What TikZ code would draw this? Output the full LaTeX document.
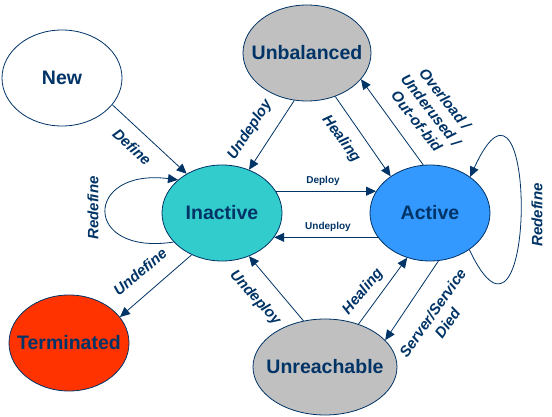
\documentclass[tikz,border=0pt]{standalone}
\usepackage{fontspec}
\setmainfont{Liberation Sans}
\usetikzlibrary{shapes.geometric,arrows.meta}
\definecolor{navy}{RGB}{0,51,102}
\definecolor{grayst}{RGB}{192,192,192}
\definecolor{turq}{RGB}{51,204,204}
\definecolor{bluest}{RGB}{51,153,255}
\definecolor{redst}{RGB}{255,51,0}
\begin{document}
\begin{tikzpicture}[x=1pt,y=1pt,line width=.8pt,
	state/.style={ellipse,draw=navy,text=navy,inner xsep=-12pt,inner ysep=0pt,minimum width=120pt,minimum height=96pt,font=\fontsize{19.5}{22}\selectfont\bfseries},
	tr/.style={draw=navy,-{Triangle[length=10pt,width=9pt]}},
	lbl/.style={text=navy,font=\fontsize{15}{18}\selectfont\bfseries\itshape,align=center,inner sep=0pt},
	small/.style={text=navy,font=\fontsize{10}{12}\selectfont\bfseries,inner sep=0pt}]
	\useasboundingbox (0,0) rectangle (552,416);
	% trang thai
	\node[state,fill=white] (New) at (62,338) {New};
	\node[state,fill=grayst,minimum width=128pt] (Unbalanced) at (307,363) {Unbalanced};
	\node[state,fill=turq] (Inactive) at (222,203) {Inactive};
	\node[state,fill=bluest] (Active) at (430,203) {Active};
	\node[state,fill=redst] (Terminated) at (69,73) {Terminated};
	\node[state,fill=grayst,minimum width=144pt] (Unreachable) at (325,49) {Unreachable};
	% chuyen trang thai
	\draw[tr] (New.-28) -- (Inactive.132);
	\draw[tr] (Unbalanced.255) -- (Inactive.58);
	\draw[tr] (Unbalanced.-57) -- (Active.137);
	\draw[tr] (Active.98) -- (Unbalanced.-26);
	\draw[tr] (Inactive.22) -- (Active.158);
	\draw[tr] (Active.205) -- (Inactive.-25);
	\draw[tr] (Inactive.234) -- (Terminated.27);
	\draw[tr] (Unreachable.115) -- (Inactive.-58);
	\draw[tr] (Unreachable.52) -- (Active.243);
	\draw[tr] (Active.280) -- (Unreachable.24);
	\draw[tr] (Inactive.211) .. controls +(-92,-14) and +(-94,12) .. (Inactive.143);
	\draw[tr] (Active.-43) .. controls +(68,-144) and +(68,149) .. (Active.42);
	% nhan
	\node[lbl,rotate=-43] (lDefine) at (132,269) {Define};
	\node[lbl,rotate=57] (lUndeployA) at (250,286) {Undeploy};
	\node[lbl,rotate=-54] (lHealingA) at (341,277) {Healing};
	\node[lbl,rotate=-52] (lOverload) at (431,306) {Overload /\\Underused /\\Out-of-bid};
	\node[lbl,rotate=90] (lRedefineA) at (93,208) {Redefine};
	\node[lbl,rotate=90] (lRedefineB) at (537,201) {Redefine};
	\node[small] (lDeploy) at (323,235) {Deploy};
	\node[small] (lUndeployB) at (328,189) {Undeploy};
	\node[lbl,rotate=40] (lUndefine) at (140,144) {Undefine};
	\node[lbl,rotate=-48] (lUndeployC) at (255,118) {Undeploy};
	\node[lbl,rotate=50] (lHealingB) at (363,124) {Healing};
	\node[lbl,rotate=55] (lDied) at (440,98) {Server/Service\\Died};
\end{tikzpicture}
\end{document}
